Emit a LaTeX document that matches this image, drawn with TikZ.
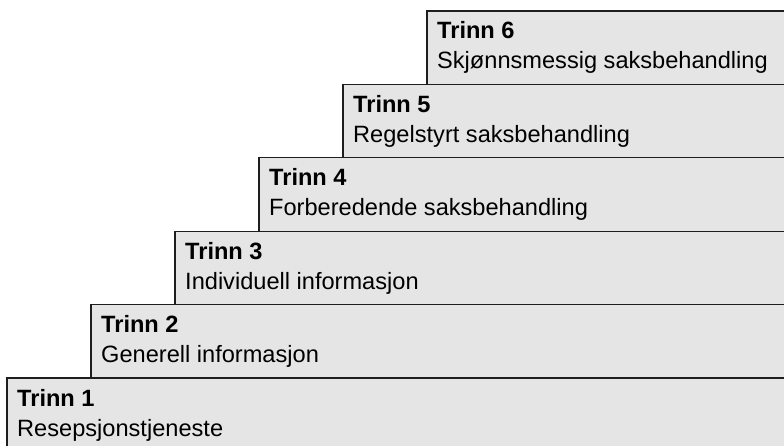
\documentclass[tikz,border=0pt]{standalone}
\usepackage{fontspec}
\setmainfont{Liberation Sans}
\definecolor{boxfill}{RGB}{229,229,229}
\definecolor{boxline}{RGB}{30,30,30}
\begin{document}
\begin{tikzpicture}[x=1pt,y=-1pt,
  stepbox/.style={fill=boxfill,draw=boxline,line width=1.2pt},
  title/.style={anchor=base west,inner sep=0pt,font=\fontsize{23.6}{28}\selectfont\bfseries},
  sub/.style={anchor=base west,inner sep=0pt,font=\fontsize{23.6}{28}\selectfont}]
\useasboundingbox (0,0) rectangle (784,446);
\clip (0,0) rectangle (784,446);
\fill[white] (0,0) rectangle (784,446);
\foreach \i/\txt in {6/Skjønnsmessig saksbehandling,5/Regelstyrt saksbehandling,4/Forberedende saksbehandling,3/Individuell informasjon,2/Generell informasjon,1/Resepsjonstjeneste}{
  \pgfmathsetmacro{\L}{7+84*(\i-1)}
  \pgfmathsetmacro{\T}{378-73.4*(\i-1)}
  \draw[stepbox] (\L,\T) rectangle (800,460);
  \node[title] (t\i) at (\L+10,\T+28) {Trinn \i};
  \node[sub] (s\i) at (\L+10,\T+58) {\txt};
}
\end{tikzpicture}
\end{document}
